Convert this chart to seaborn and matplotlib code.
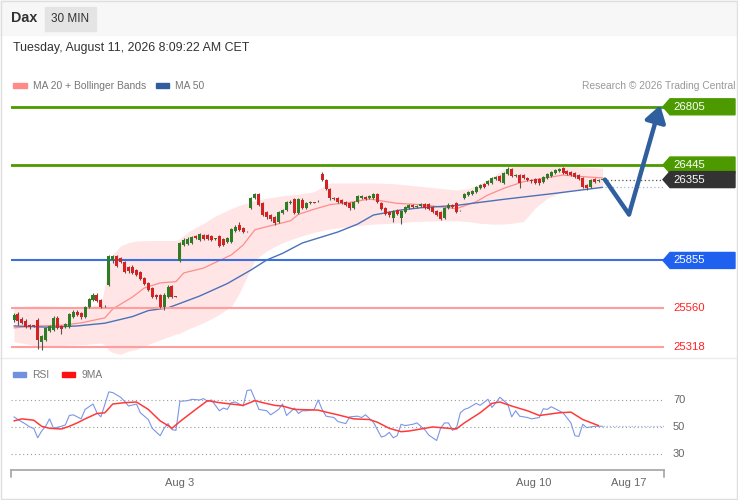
import seaborn as sns
import matplotlib.pyplot as plt
import matplotlib.transforms as mtransforms
from matplotlib.patches import Rectangle, Polygon
from matplotlib.lines import Line2D

# --- candle data (30 min bars, oldest first) ---
opens = [25487, 25524, 25493, 25481, 25456, 25450, 25487, 25351, 25364, 25419,
         25425, 25500, 25450, 25444, 25444, 25506, 25537, 25531, 25506, 25568,
         25611, 25642, 25611, 25574, 25703, 25858, 25883, 25871, 25846, 25815,
         25815, 25796, 25784, 25747, 25716, 25685, 25642, 25642, 25568, 25629,
         25697, 25632, 25852, 25951, 25957, 25963, 26006, 25982, 26012, 26012,
         26006, 25988, 26006, 25988, 25970, 25970, 26037, 26074, 26056, 26037,
         26179, 26241, 26266, 26210, 26155, 26136, 26124, 26093, 26148, 26167,
         26210, 26235, 26148, 26229, 26179, 26210, 26216, 26220, 26389, 26352,
         26297, 26241, 26241, 26229, 26216, 26210, 26179, 26216, 26241, 26247,
         26241, 26241, 26266, 26210, 26179, 26155, 26117, 26167, 26117, 26155,
         26179, 26198, 26185, 26192, 26204, 26204, 26185, 26161, 26155, 26117,
         26179, 26198, 26210, 26164, 26241, 26260, 26266, 26278, 26303, 26328,
         26328, 26334, 26358, 26377, 26334, 26389, 26420, 26377, 26383, 26383,
         26365, 26352, 26358, 26358, 26340, 26365, 26377, 26396, 26408, 26426,
         26408, 26402, 26396, 26383, 26365, 26321, 26309, 26358, 26346, 26355]
highs = [25531, 25537, 25506, 25493, 25463, 25456, 25500, 25395, 25444, 25456,
         25512, 25512, 25456, 25469, 25531, 25549, 25549, 25537, 25574, 25623,
         25654, 25654, 25617, 25577, 25889, 25889, 25889, 25877, 25852, 25821,
         25827, 25803, 25790, 25753, 25722, 25691, 25648, 25648, 25654, 25703,
         25703, 25636, 25970, 25994, 26000, 26006, 26012, 26025, 26019, 26019,
         26012, 25994, 26012, 25994, 26000, 26056, 26074, 26093, 26062, 26040,
         26247, 26272, 26272, 26216, 26161, 26142, 26130, 26161, 26173, 26223,
         26229, 26241, 26241, 26241, 26216, 26223, 26219, 26226, 26402, 26358,
         26303, 26247, 26247, 26235, 26223, 26216, 26223, 26260, 26260, 26253,
         26260, 26272, 26272, 26216, 26185, 26161, 26167, 26173, 26167, 26192,
         26204, 26204, 26198, 26210, 26210, 26210, 26192, 26167, 26161, 26185,
         26210, 26204, 26216, 26170, 26272, 26284, 26290, 26315, 26328, 26334,
         26352, 26371, 26377, 26383, 26402, 26433, 26426, 26389, 26389, 26389,
         26371, 26358, 26365, 26365, 26377, 26396, 26408, 26420, 26426, 26433,
         26414, 26408, 26402, 26389, 26371, 26328, 26358, 26365, 26358, 26358]
lows = [25475, 25456, 25463, 25438, 25432, 25444, 25308, 25302, 25357, 25413,
        25419, 25432, 25401, 25438, 25438, 25500, 25512, 25493, 25500, 25561,
        25605, 25599, 25561, 25568, 25697, 25840, 25815, 25840, 25778, 25778,
        25771, 25759, 25734, 25703, 25666, 25623, 25617, 25561, 25549, 25623,
        25623, 25626, 25846, 25945, 25951, 25957, 25988, 25976, 25982, 25982,
        25976, 25982, 25938, 25945, 25963, 25963, 26031, 26037, 26025, 26031,
        26173, 26235, 26192, 26130, 26111, 26099, 26074, 26087, 26142, 26161,
        26204, 26142, 26142, 26173, 26173, 26204, 26210, 26216, 26346, 26290,
        26229, 26229, 26210, 26204, 26192, 26167, 26173, 26210, 26235, 26229,
        26235, 26235, 26210, 26167, 26136, 26124, 26093, 26136, 26080, 26148,
        26173, 26179, 26179, 26185, 26173, 26167, 26148, 26130, 26105, 26111,
        26173, 26179, 26148, 26161, 26235, 26253, 26260, 26272, 26297, 26303,
        26321, 26328, 26352, 26340, 26328, 26383, 26371, 26371, 26303, 26358,
        26346, 26334, 26328, 26321, 26334, 26358, 26371, 26389, 26402, 26389,
        26383, 26377, 26365, 26352, 26303, 26290, 26303, 26334, 26340, 26352]
closes = [25518, 25481, 25469, 25444, 25444, 25448, 25364, 25388, 25438, 25450,
          25500, 25438, 25432, 25463, 25524, 25537, 25518, 25506, 25568, 25617,
          25642, 25605, 25568, 25571, 25883, 25883, 25821, 25846, 25784, 25790,
          25778, 25765, 25741, 25710, 25672, 25629, 25629, 25568, 25642, 25691,
          25629, 25629, 25963, 25982, 25988, 26000, 25994, 26019, 25988, 25988,
          25982, 25991, 25945, 25951, 25994, 26050, 26062, 26043, 26031, 26034,
          26241, 26266, 26198, 26136, 26124, 26111, 26087, 26155, 26167, 26216,
          26216, 26148, 26235, 26179, 26210, 26216, 26213, 26223, 26352, 26297,
          26241, 26235, 26216, 26210, 26198, 26179, 26216, 26253, 26253, 26235,
          26253, 26266, 26216, 26173, 26142, 26136, 26161, 26142, 26161, 26185,
          26198, 26185, 26192, 26204, 26179, 26173, 26155, 26136, 26111, 26179,
          26198, 26185, 26155, 26167, 26266, 26278, 26284, 26309, 26321, 26309,
          26346, 26365, 26371, 26346, 26396, 26420, 26377, 26383, 26334, 26365,
          26352, 26346, 26334, 26334, 26371, 26389, 26402, 26414, 26420, 26396,
          26389, 26383, 26371, 26358, 26309, 26303, 26352, 26340, 26352, 26355]

# --- indicators (candle index, value) ---
ma20_idx = [0, 6, 12, 17, 23, 25, 30, 33, 37, 41,
            43, 48, 55, 58, 61, 65, 70, 72, 76, 80,
            85, 90, 97, 103, 112, 117, 120, 124, 129, 134,
            139, 144, 149]
ma20 = [25438, 25450, 25454, 25469, 25500, 25555, 25629, 25685, 25716, 25724,
        25778, 25808, 25889, 25950, 26045, 26070, 26100, 26140, 26172, 26200,
        26214, 26235, 26208, 26200, 26175, 26218, 26260, 26301, 26342, 26363,
        26383, 26373, 26365]

ma50_idx = [0, 9, 16, 23, 30, 34, 39, 41, 47, 54,
            60, 64, 68, 73, 82, 87, 91, 98, 103, 112,
            115, 124, 131, 137, 149]
ma50 = [25450, 25442, 25450, 25467, 25508, 25545, 25562, 25580, 25635, 25712,
        25796, 25858, 25899, 25963, 26031, 26080, 26136, 26167, 26181, 26195,
        26205, 26233, 26253, 26270, 26307]

band_idx = [0, 5, 9, 13, 18, 22, 23, 24, 25, 27,
            29, 31, 34, 37, 41, 42, 44, 48, 51, 55,
            57, 59, 61, 64, 68, 72, 76, 78, 80, 85,
            91, 96, 101, 107, 112, 115, 118, 121, 124, 127,
            129, 132, 135, 138, 141, 144, 149]
band_upper = [25569, 25574, 25572, 25569, 25572, 25580, 25700, 25820, 25890, 25945,
              25965, 25975, 25978, 25978, 25978, 25990, 26030, 26085, 26130, 26175,
              26195, 26210, 26225, 26240, 26255, 26265, 26280, 26310, 26334, 26334,
              26334, 26330, 26318, 26303, 26290, 26300, 26330, 26370, 26420, 26440,
              26445, 26445, 26442, 26440, 26437, 26433, 26426]
band_lower = [25353, 25330, 25322, 25330, 25335, 25345, 25330, 25300, 25285, 25275,
              25295, 25305, 25335, 25364, 25400, 25405, 25430, 25470, 25508, 25569,
              25650, 25755, 25858, 25915, 25965, 26000, 26030, 26040, 26050, 26065,
              26080, 26085, 26095, 26100, 26100, 26095, 26085, 26080, 26080, 26088,
              26095, 26180, 26240, 26270, 26285, 26295, 26305]

rsi_idx = [0, 1, 3, 4, 5, 6, 7, 8, 9, 10,
           12, 13, 14, 15, 17, 18, 20, 21, 22, 24,
           25, 27, 28, 29, 31, 32, 34, 35, 37, 38,
           39, 40, 41, 42, 44, 45, 47, 48, 49, 50,
           52, 53, 54, 55, 56, 58, 59, 60, 61, 62,
           64, 65, 67, 68, 69, 71, 72, 73, 74, 76,
           77, 78, 79, 81, 82, 84, 85, 87, 88, 89,
           91, 92, 93, 94, 95, 96, 97, 98, 99, 101,
           102, 104, 105, 107, 108, 109, 110, 111, 112, 113,
           114, 115, 117, 118, 120, 121, 122, 123, 125, 126,
           127, 128, 130, 131, 133, 134, 135, 136, 138, 139,
           141, 142, 143, 144, 145, 147, 149]
rsi = [57.5, 55.5, 52, 50, 49, 42, 47, 50.5, 56, 49,
       50.5, 51.5, 58.5, 59, 56, 63, 67, 60.5, 57.5, 76,
       75.5, 72, 69, 65.5, 67, 60.5, 55.5, 49, 43.5, 49,
       52.5, 48, 47.5, 69, 69.5, 70.5, 70, 71, 69, 70,
       62, 64, 63, 68, 68.5, 65.5, 77, 77.5, 70.5, 63,
       62, 59, 63, 67, 58.5, 64, 60, 62, 62, 63,
       70, 63, 58, 57, 54, 52.5, 57.5, 58, 57, 59,
       53.5, 48, 42.5, 43.5, 46, 42, 43.5, 52, 51, 52,
       53, 48, 44, 40, 49, 53, 53, 47.5, 49, 60.5,
       63, 64, 67.5, 66, 70.5, 64.5, 68, 72, 67, 57.5,
       62, 58, 57, 56, 57, 63.5, 63, 65, 62, 60.5,
       53, 43.5, 43, 52, 49.5, 50.5, 50.5]

ma9_idx = [0, 2, 5, 7, 9, 12, 14, 16, 18, 21,
           23, 25, 28, 31, 34, 37, 39, 40, 42, 46,
           49, 52, 55, 58, 61, 63, 66, 68, 71, 77,
           79, 82, 86, 90, 92, 95, 98, 100, 104, 106,
           110, 112, 114, 118, 121, 123, 126, 130, 133, 138,
           141, 144, 148]
ma9 = [54.5, 56, 55, 50.5, 49, 48.5, 50.5, 53, 56, 60,
       60.5, 67, 68, 68.5, 63, 54.5, 51, 49, 54, 63,
       69.5, 68, 67, 66, 69.5, 68, 66, 65.5, 63, 62.5,
       61, 59, 56, 55.5, 53.5, 49, 46.5, 47, 49, 50,
       49, 48.5, 53, 60.5, 67.5, 68.5, 65.5, 62, 58.5, 60.5,
       61, 55.5, 51]

# support / resistance levels and projection path
res_levels = [26805, 26445]
pivot_level = 25855
sup_levels = [25560, 25318]
last_price = 26355
ma50_last = 26307
proj_idx = [149.6, 155.7, 163.6]
proj_price = [26355, 26140, 26815]

tick_pos = [42, 131.6, 155.7]
tick_labels = ["Aug 3", "Aug 10", "Aug 17"]

# --- style ---
sns.set_style("white")
plt.rcParams['font.family'] = ['Liberation Sans', 'DejaVu Sans']

W, H = 738, 500
GREEN = '#4c9a00'
CANDLE_UP = '#2e7d22'
CANDLE_DN = '#d42222'


def fx(px):
    return px / W


def fy(py):
    return 1 - py / H


fig = plt.figure(figsize=(W / 100, H / 100), dpi=100)

# header strip and frame
fig.add_artist(Rectangle((0, fy(35)), 1, 35 / H, transform=fig.transFigure,
                         color='#f7f7f7', zorder=0))
fig.add_artist(Rectangle((fx(45), fy(31)), 51 / W, 24 / H, transform=fig.transFigure,
                         color='#e4e4e4', zorder=1))
fig.add_artist(Rectangle((0.0015, 0.002), 0.997, 0.996, transform=fig.transFigure,
                         fill=False, ec='#dedede', lw=1, zorder=5))
fig.add_artist(Line2D([0, 1], [fy(358), fy(358)], transform=fig.transFigure,
                      color='#ececec', lw=1))

fig.text(fx(11), fy(18.5), "Dax", fontsize=10.3, fontweight='bold', color='#333333', va='center')
fig.text(fx(70.5), fy(18.5), "30 MIN", fontsize=8.5, color='#333333', va='center', ha='center')
fig.text(fx(13), fy(48), "Tuesday, August 11, 2026 8:09:22 AM CET", fontsize=8.9,
         color='#333333', va='center')

# legend of the price panel
fig.add_artist(Rectangle((fx(13), fy(88)), 14 / W, 5 / H, transform=fig.transFigure,
                         color='#ff8a8a'))
fig.text(fx(33), fy(86), "MA 20 + Bollinger Bands", fontsize=7.4, color='#777777', va='center')
fig.add_artist(Rectangle((fx(156), fy(88)), 13 / W, 5 / H, transform=fig.transFigure,
                         color='#2f5d9e'))
fig.text(fx(175), fy(86), "MA 50", fontsize=7.4, color='#777777', va='center')
fig.text(fx(736), fy(86), "Research \u00a9 2026 Trading Central", fontsize=7.4,
         color='#999999', va='center', ha='right')

# legend of the RSI panel
fig.add_artist(Rectangle((fx(13), fy(377)), 13 / W, 5 / H, transform=fig.transFigure,
                         color='#7090e0'))
fig.text(fx(32), fy(374.5), "RSI", fontsize=7.4, color='#777777', va='center')
fig.add_artist(Rectangle((fx(62), fy(377)), 13 / W, 5 / H, transform=fig.transFigure,
                         color='#ff1010'))
fig.text(fx(81), fy(374.5), "9MA", fontsize=7.4, color='#777777', va='center')

# --- price panel ---
ax = fig.add_axes([fx(11), fy(357), (664 - 11) / W, (357 - 95) / H])
xlim = (-0.76, 164.56)
ax.set_xlim(*xlim)
ax.set_ylim(25258, 26878)
ax.axis('off')

ax.fill_between(band_idx, band_lower, band_upper, color='#ffe5e5', lw=0, zorder=1)
sns.lineplot(x=ma20_idx, y=ma20, ax=ax, color='#ff8c8c', lw=0.9, zorder=2)
sns.lineplot(x=ma50_idx, y=ma50, ax=ax, color='#4a72b8', lw=1.0, zorder=2)

for lv in res_levels:
    ax.axhline(lv, color=GREEN, lw=2, zorder=3)
ax.axhline(pivot_level, color='#3a6fe0', lw=1.5, zorder=3)
for lv in sup_levels:
    ax.axhline(lv, color='#ff9e9e', lw=1.5, zorder=3)

idx = list(range(len(closes)))
colors = [CANDLE_UP if c >= o else CANDLE_DN for o, c in zip(opens, closes)]
bottoms = [min(o, c) for o, c in zip(opens, closes)]
heights = [max(abs(c - o), 5) for o, c in zip(opens, closes)]
ax.vlines(idx, lows, highs, color='#555555', lw=0.8, zorder=4)
ax.bar(idx, heights, bottom=bottoms, width=0.76, color=colors, lw=0, zorder=5)

# current price and MA50 continuation
ax.plot([idx[-1], xlim[1]], [last_price, last_price], color='#555555',
        ls=(0, (1, 2)), lw=0.9, zorder=3)
ax.plot([idx[-1] + 0.6, xlim[1]], [ma50_last, ma50_last], color='#9db6e2',
        ls=(0, (1, 2)), lw=0.9, zorder=3)

# projection arrow
ax.plot(proj_idx[:2], proj_price[:2], color='#2f5f9f', lw=3.2,
        solid_capstyle='round', solid_joinstyle='round', zorder=6)
ax.annotate('', xy=(proj_idx[2], proj_price[2]), xytext=(proj_idx[1], proj_price[1]),
            arrowprops=dict(arrowstyle='-|>,head_length=0.7,head_width=0.45', color='#2f5f9f',
                            lw=3.2, shrinkA=0, shrinkB=0, mutation_scale=14),
            zorder=6, annotation_clip=False)

# price tags on the right
trans = mtransforms.blended_transform_factory(ax.transAxes, ax.transData)
aw = 653.0
half = 8 * 6.18


def tag(price, color):
    pts = [(1 - 1 / aw, price), (1 + 6 / aw, price + half), (1 + 71 / aw, price + half),
           (1 + 71 / aw, price - half), (1 + 6 / aw, price - half)]
    ax.add_patch(Polygon(pts, closed=True, transform=trans, color=color,
                         clip_on=False, zorder=7))
    ax.text(1 + 9 / aw, price, f"{price}", transform=trans, color='white', fontsize=8.2,
            va='center', ha='left', zorder=8, clip_on=False)


for lv in res_levels:
    tag(lv, GREEN)
tag(last_price, '#333333')
tag(pivot_level, '#1f60ee')
for lv in sup_levels:
    ax.text(1 + 9 / aw, lv, f"{lv}", transform=trans, color='#ff2020', fontsize=8.2,
            va='center', ha='left', clip_on=False)

# --- RSI panel ---
rax = fig.add_axes([fx(11), fy(470), (664 - 11) / W, (470 - 385) / H])
rax.set_xlim(*xlim)
rax.set_ylim(18.1, 81.1)
for s in ['top', 'left', 'right']:
    rax.spines[s].set_visible(False)
rax.spines['bottom'].set_color('#aaaaaa')
rax.spines['bottom'].set_linewidth(1.3)
rax.set_yticks([])
rax.set_xticks(tick_pos)
rax.set_xticklabels(tick_labels)
rax.tick_params(axis='x', length=0, pad=6, labelsize=8, labelcolor='#666666')
for xe in [0, 1]:
    rax.plot([xe, xe], [0, -0.085], transform=rax.transAxes, color='#aaaaaa',
             lw=1.3, clip_on=False)

rtrans = mtransforms.blended_transform_factory(rax.transAxes, rax.transData)
for lv in [70, 50, 30]:
    rax.axhline(lv, color='#9a9a9a', ls=(0, (1, 2.5)), lw=0.8)
    rax.text(1 + 9 / aw, lv, str(lv), transform=rtrans, fontsize=8, color='#666666',
             va='center', ha='left', clip_on=False)

sns.lineplot(x=rsi_idx, y=rsi, ax=rax, color='#7b96e6', lw=0.8)
sns.lineplot(x=ma9_idx, y=ma9, ax=rax, color='#ff3a3a', lw=1.1)
rax.plot([rsi_idx[-1], xlim[1]], [rsi[-1], rsi[-1]], color='#a8bcef',
         ls=(0, (1, 1.5)), lw=0.9)
rax.set_xlabel('')
rax.set_ylabel('')

fig.savefig('out.png', dpi=100)
